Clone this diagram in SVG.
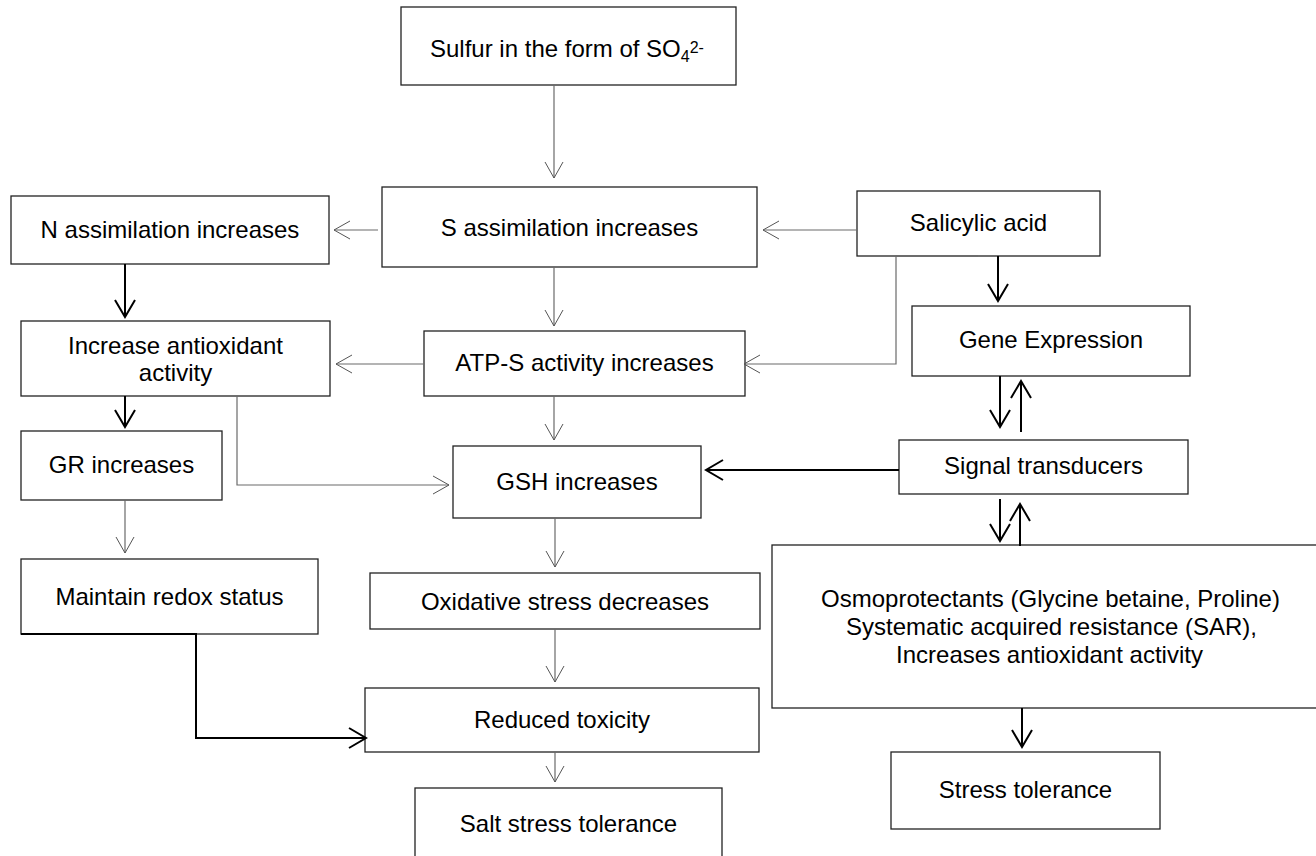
<svg xmlns="http://www.w3.org/2000/svg" width="1316" height="856" viewBox="0 0 1316 856">
<style>
.box{fill:#fff;stroke:#222;stroke-width:1.3}
.t{font-family:"Liberation Sans",Arial,sans-serif;font-size:24px;fill:#000;text-anchor:middle}
.g{fill:none;stroke:#6a6a6a;stroke-width:1.2}
.b{fill:none;stroke:#000;stroke-width:2}
</style>
<defs>
<marker id="ag" markerUnits="userSpaceOnUse" markerWidth="20" markerHeight="20" viewBox="-18 -10 20 20" refX="0" refY="0" orient="auto" overflow="visible"><path d="M-16,-9 L0,0 L-16,9" fill="none" stroke="#555" stroke-width="1"/></marker>
<marker id="ab" markerUnits="userSpaceOnUse" markerWidth="22" markerHeight="22" viewBox="-19 -11 22 22" refX="0" refY="0" orient="auto" overflow="visible"><path d="M-17,-10 L0,0 L-17,10" fill="none" stroke="#000" stroke-width="2"/></marker>
</defs>
<rect width="1316" height="856" fill="#fff"/>
<g id="n-sulfur"><rect class="box" x="401" y="7" width="335" height="78"/><text class="t" x="430" y="57" style="text-anchor:start">Sulfur in the form of SO<tspan font-size="16" dy="5">4</tspan><tspan font-size="16" dy="-9">2-</tspan></text></g>
<g id="n-sassim"><rect class="box" x="382" y="187" width="375" height="80"/><text class="t" x="569.5" y="236">S assimilation increases</text></g>
<g id="n-nassim"><rect class="box" x="11" y="196" width="318" height="68"/><text class="t" x="170" y="238">N assimilation increases</text></g>
<g id="n-salicylic"><rect class="box" x="857" y="191" width="243" height="65"/><text class="t" x="978.5" y="231">Salicylic acid</text></g>
<g id="n-gene"><rect class="box" x="912" y="306" width="278" height="70"/><text class="t" x="1051" y="348">Gene Expression</text></g>
<g id="n-antiox"><rect class="box" x="21" y="321" width="309" height="75"/><text class="t" x="175.5" y="354">Increase antioxidant</text><text class="t" x="175.5" y="381">activity</text></g>
<g id="n-atps"><rect class="box" x="424" y="331" width="321" height="65"/><text class="t" x="584.5" y="371">ATP-S activity increases</text></g>
<g id="n-signal"><rect class="box" x="899" y="440" width="289" height="54"/><text class="t" x="1043.5" y="474">Signal transducers</text></g>
<g id="n-gr"><rect class="box" x="21" y="431" width="201" height="69"/><text class="t" x="121.5" y="473">GR increases</text></g>
<g id="n-gsh"><rect class="box" x="453" y="446" width="248" height="72"/><text class="t" x="577" y="490">GSH increases</text></g>
<g id="n-maintain"><rect class="box" x="21" y="559" width="297" height="75"/><text class="t" x="169.5" y="605">Maintain redox status</text></g>
<g id="n-ox"><rect class="box" x="370" y="573" width="390" height="56"/><text class="t" x="565" y="610">Oxidative stress decreases</text></g>
<g id="n-osmo"><rect class="box" x="772" y="545" width="560" height="163"/><text class="t" x="1050.5" y="607">Osmoprotectants (Glycine betaine, Proline)</text><text class="t" x="1051.5" y="635">Systematic acquired resistance (SAR),</text><text class="t" x="1049.5" y="663">Increases antioxidant activity</text></g>
<g id="n-reduced"><rect class="box" x="365" y="688" width="394" height="64"/><text class="t" x="562" y="728">Reduced toxicity</text></g>
<g id="n-stress"><rect class="box" x="891" y="752" width="269" height="77"/><text class="t" x="1025.5" y="798">Stress tolerance</text></g>
<g id="n-salt"><rect class="box" x="415" y="788" width="307" height="90"/><text class="t" x="568.5" y="832">Salt stress tolerance</text></g>
<g id="connectors">
<path class="g" marker-end="url(#ag)" d="M554,85 V178"/>
<path class="g" marker-end="url(#ag)" d="M378,230 H334"/>
<path class="g" marker-end="url(#ag)" d="M857,230 H763"/>
<path class="g" marker-end="url(#ag)" d="M554,267 V326"/>
<path class="g" marker-end="url(#ag)" d="M978,256 H896 V364 H744"/>
<path class="g" marker-end="url(#ag)" d="M424,364 H336"/>
<path class="g" marker-end="url(#ag)" d="M554,396 V440"/>
<path class="g" marker-end="url(#ag)" d="M237,396 V485 H449"/>
<path class="g" marker-end="url(#ag)" d="M125,500 V553"/>
<path class="g" marker-end="url(#ag)" d="M555,518 V567"/>
<path class="g" marker-end="url(#ag)" d="M555,629 V682"/>
<path class="g" marker-end="url(#ag)" d="M555,752 V782"/>
<path class="b" marker-end="url(#ab)" d="M998,256 V301"/>
<path class="b" marker-end="url(#ab)" d="M1000,376 V427"/>
<path class="b" marker-end="url(#ab)" d="M1021,432 V381"/>
<path class="b" marker-end="url(#ab)" d="M899,470 H706"/>
<path class="b" marker-end="url(#ab)" d="M1000,499 V541"/>
<path class="b" marker-end="url(#ab)" d="M1020,546 V504"/>
<path class="b" marker-end="url(#ab)" d="M125,264 V317"/>
<path class="b" marker-end="url(#ab)" d="M125,396 V427"/>
<path class="b" marker-end="url(#ab)" d="M21,634 H196 V738 H366"/>
<path class="b" marker-end="url(#ab)" d="M1022,708 V747"/>
</g>
</svg>
